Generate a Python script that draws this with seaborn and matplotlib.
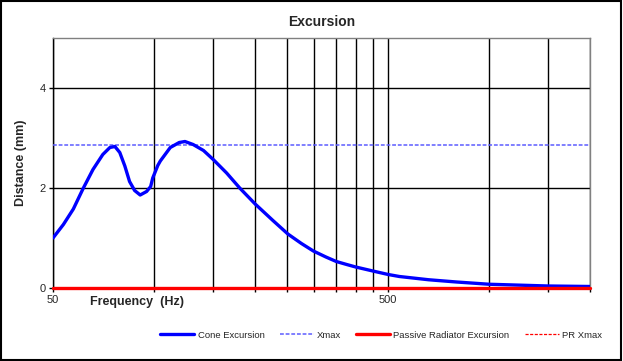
import pandas as pd
import seaborn as sns
import matplotlib.pyplot as plt
from matplotlib.patches import Rectangle
from matplotlib.ticker import FixedLocator, FixedFormatter, NullLocator

# Values
freq = [50, 53.7, 57.5, 61.5, 65.8, 70.4, 73.9, 76.5, 79.1, 81.9, 84.6, 87.6,
        91.0, 95.1, 97.8, 99.2, 102.7, 104.5, 111.9, 119.0, 123.8, 130.9,
        140.6, 150.3, 164.8, 180.3, 200.5, 226.5, 251, 275.5, 299, 326, 350,
        376, 400, 450, 500, 540, 660, 800, 1000, 1500, 2000]
cone = [1.00, 1.27, 1.58, 1.99, 2.37, 2.67, 2.81, 2.83, 2.71, 2.44, 2.13, 1.95,
        1.86, 1.93, 2.03, 2.20, 2.45, 2.54, 2.81, 2.91, 2.93, 2.87,
        2.75, 2.57, 2.30, 2.00, 1.68, 1.35, 1.08, 0.89, 0.74, 0.62, 0.53,
        0.47, 0.42, 0.34, 0.27, 0.23, 0.165, 0.12, 0.075, 0.04, 0.03]
pr = [0.0] * len(freq)
xmax = 2.87
pr_xmax = 0.0

grid_x = [50, 100, 150, 200, 250, 300, 350, 400, 450, 500, 1000, 1500, 2000]
x_labels = ['50', '', '', '', '', '', '', '', '', '500', '', '', '']
y_ticks = [0, 2, 4]

df = pd.DataFrame({'Frequency': freq, 'Cone': cone, 'PR': pr})

sns.set_style('white')
plt.rcParams['font.family'] = ['Liberation Sans', 'DejaVu Sans']

fig = plt.figure(figsize=(6.23, 3.61), dpi=100)
ax = fig.add_axes([53 / 623, 1 - 288 / 361, 537 / 623, 250 / 361])

sns.lineplot(data=df, x='Frequency', y='Cone', ax=ax, color='#0000ff',
             linewidth=2.4, label='Cone Excursion', zorder=4,
             solid_joinstyle='round')
ax.axhline(xmax, color='#5c5cff', linewidth=1.1, linestyle=(0, (2.5, 1.2)),
           label='Xmax', zorder=3)
sns.lineplot(data=df, x='Frequency', y='PR', ax=ax, color='#ff0000',
             linewidth=2.4, label='Passive Radiator Excursion', zorder=5,
             clip_on=False)
ax.axhline(pr_xmax, color='#ff0000', linewidth=0.9, linestyle=(0, (2.5, 1.2)),
           label='PR Xmax', zorder=2)

ax.set_xscale('log')
ax.set_xlim(50, 2000)
ax.set_ylim(0, 5)
ax.xaxis.set_major_locator(FixedLocator(grid_x))
ax.xaxis.set_major_formatter(FixedFormatter(x_labels))
ax.xaxis.set_minor_locator(NullLocator())
ax.set_yticks(y_ticks)
ax.grid(True, color='black', linewidth=1)
ax.set_axisbelow(True)
ax.tick_params(axis='both', direction='out', length=3, width=1, color='black',
               labelsize=8, pad=2, bottom=True, left=True)
for s in ax.spines.values():
    s.set_color('#808080')
    s.set_linewidth(1)
ax.spines['left'].set_color('black')
ax.spines['bottom'].set_color('black')

ax.set_title('Excursion', fontsize=10, fontweight='bold', pad=9)
ax.set_xlabel('')
ax.set_ylabel('Distance (mm)', fontsize=9, fontweight='bold', labelpad=9)
fig.text(137 / 623, 1 - 302 / 361, 'Frequency  (Hz)', fontsize=9,
         fontweight='bold', ha='center', va='center')

ax.get_legend().remove()
h, l = ax.get_legend_handles_labels()
fig.legend(h, l, loc='center right', bbox_to_anchor=(0.98, 1 - 335 / 361),
           ncol=4, frameon=False, fontsize=6.8, handlelength=3.6,
           columnspacing=1.6, handletextpad=0.35)

fig.patches.append(Rectangle((0.002, 0.003), 0.995, 0.994, transform=fig.transFigure,
                             fill=False, edgecolor='black', linewidth=1.5))

fig.savefig('out.png', dpi=100)
